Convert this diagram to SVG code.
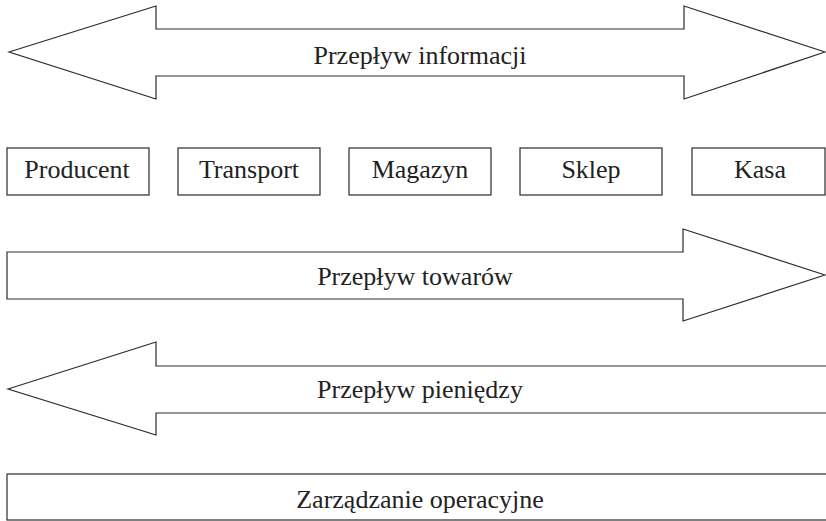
<svg xmlns="http://www.w3.org/2000/svg" width="826" height="521" viewBox="0 0 826 521">
  <style>
    .shape { fill: #ffffff; stroke: #2b2b2b; stroke-width: 1.2; stroke-linejoin: miter; }
    .label { font-family: "Liberation Serif", "Times New Roman", serif; font-size: 26px; fill: #222222; text-anchor: middle; }
  </style>
  <rect x="0" y="0" width="826" height="521" fill="#ffffff"/>

  <!-- Two-way information flow -->
  <g id="flow-information">
    <polygon class="shape" points="9,52 156,6 156,29 684,29 684,6 825,52 684,99 684,76 156,76 156,99"/>
    <text class="label" x="420" y="64">Przepływ informacji</text>
  </g>

  <!-- Supply chain stages -->
  <g id="node-producent">
    <rect class="shape" x="7" y="148" width="142" height="47"/>
    <text class="label" x="77" y="178">Producent</text>
  </g>
  <g id="node-transport">
    <rect class="shape" x="178" y="148" width="142" height="47"/>
    <text class="label" x="249" y="178">Transport</text>
  </g>
  <g id="node-magazyn">
    <rect class="shape" x="349" y="148" width="142" height="47"/>
    <text class="label" x="420" y="178">Magazyn</text>
  </g>
  <g id="node-sklep">
    <rect class="shape" x="520" y="148" width="142" height="47"/>
    <text class="label" x="591" y="178">Sklep</text>
  </g>
  <g id="node-kasa">
    <rect class="shape" x="692" y="148" width="133" height="47"/>
    <text class="label" x="760" y="178">Kasa</text>
  </g>

  <!-- Goods flow, left to right -->
  <g id="flow-goods">
    <polygon class="shape" points="7,252 683,252 683,229 825,275 683,321 683,299 7,299"/>
    <text class="label" x="415" y="285">Przepływ towarów</text>
  </g>

  <!-- Money flow, right to left -->
  <g id="flow-money">
    <polygon class="shape" points="8,389 156,342 156,366 830,366 830,413 156,413 156,435"/>
    <text class="label" x="420" y="398">Przepływ pieniędzy</text>
  </g>

  <!-- Operations management band -->
  <g id="operations">
    <rect class="shape" x="7" y="474" width="823" height="46"/>
    <text class="label" x="420" y="508">Zarządzanie operacyjne</text>
  </g>
</svg>
